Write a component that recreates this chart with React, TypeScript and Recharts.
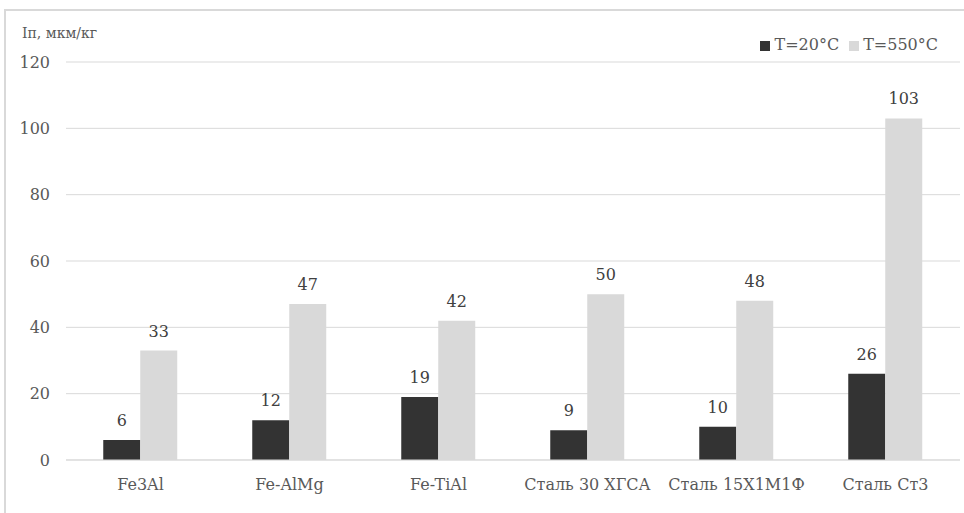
import React from 'react';
import { BarChart, Bar, XAxis, YAxis, CartesianGrid, Legend, LabelList } from 'recharts';

const materials = ['Fe3Al', 'Fe-AlMg', 'Fe-TiAl', 'Сталь 30 ХГСА', 'Сталь 15Х1М1Ф', 'Сталь Ст3'];
const t20 = [6, 12, 19, 9, 10, 26];
const t550 = [33, 47, 42, 50, 48, 103];
const yTicks = [0, 20, 40, 60, 80, 100, 120];

const data = materials.map((name, i) => ({ name, t20: t20[i], t550: t550[i] }));

const FONT = '"DejaVu Serif", serif';

export default function App() {
  return (
    <div
      style={{
        position: 'fixed',
        left: 0,
        top: 0,
        width: 964,
        height: 513,
        background: '#fff',
        overflow: 'hidden',
        fontFamily: FONT,
      }}
    >
      {/* chart frame */}
      <div
        style={{
          position: 'absolute',
          left: 4,
          top: 9,
          width: 980,
          height: 540,
          border: '2px solid #d9d9d9',
          boxSizing: 'border-box',
        }}
      />
      <div
        style={{
          position: 'absolute',
          left: 22,
          top: 24,
          fontSize: 14,
          lineHeight: '18px',
          color: '#595959',
          whiteSpace: 'nowrap',
          fontFamily: FONT,
        }}
      >
        Iп, мкм/кг
      </div>
      <BarChart
        width={964}
        height={513}
        data={data}
        margin={{ top: 42, right: 4, bottom: 0, left: 0 }}
        barCategoryGap="25%"
        barGap={0}
        style={{ position: 'absolute', left: 0, top: 0, fontFamily: FONT }}
      >
        <CartesianGrid horizontal vertical={false} stroke="#d9d9d9" />
        <XAxis
          dataKey="name"
          height={53}
          axisLine={{ stroke: '#d9d9d9' }}
          tickLine={false}
          tickSize={0}
          tickMargin={19}
          tick={{ fill: '#595959', fontSize: 16, fontFamily: FONT }}
          interval={0}
        />
        <YAxis
          width={66}
          domain={[0, 120]}
          ticks={yTicks}
          axisLine={false}
          tickLine={false}
          tickSize={0}
          tickMargin={16}
          tick={{ fill: '#595959', fontSize: 16, fontFamily: FONT }}
        />
        <Legend
          verticalAlign="top"
          align="right"
          iconType="square"
          iconSize={10}
          height={20}
          wrapperStyle={{
            top: 35,
            right: 16,
            left: 'auto',
            width: 'auto',
            fontSize: 16,
            fontFamily: FONT,
            lineHeight: '20px',
          }}
          formatter={(value) => <span style={{ color: '#595959', fontFamily: FONT }}>{value}</span>}
        />
        <Bar dataKey="t20" name="T=20°C" fill="#333333" isAnimationActive={false}>
          <LabelList dataKey="t20" position="top" offset={14} fill="#404040" fontSize={16} fontFamily={FONT} />
        </Bar>
        <Bar dataKey="t550" name="T=550°C" fill="#d9d9d9" isAnimationActive={false}>
          <LabelList dataKey="t550" position="top" offset={14} fill="#404040" fontSize={16} fontFamily={FONT} />
        </Bar>
      </BarChart>
    </div>
  );
}
